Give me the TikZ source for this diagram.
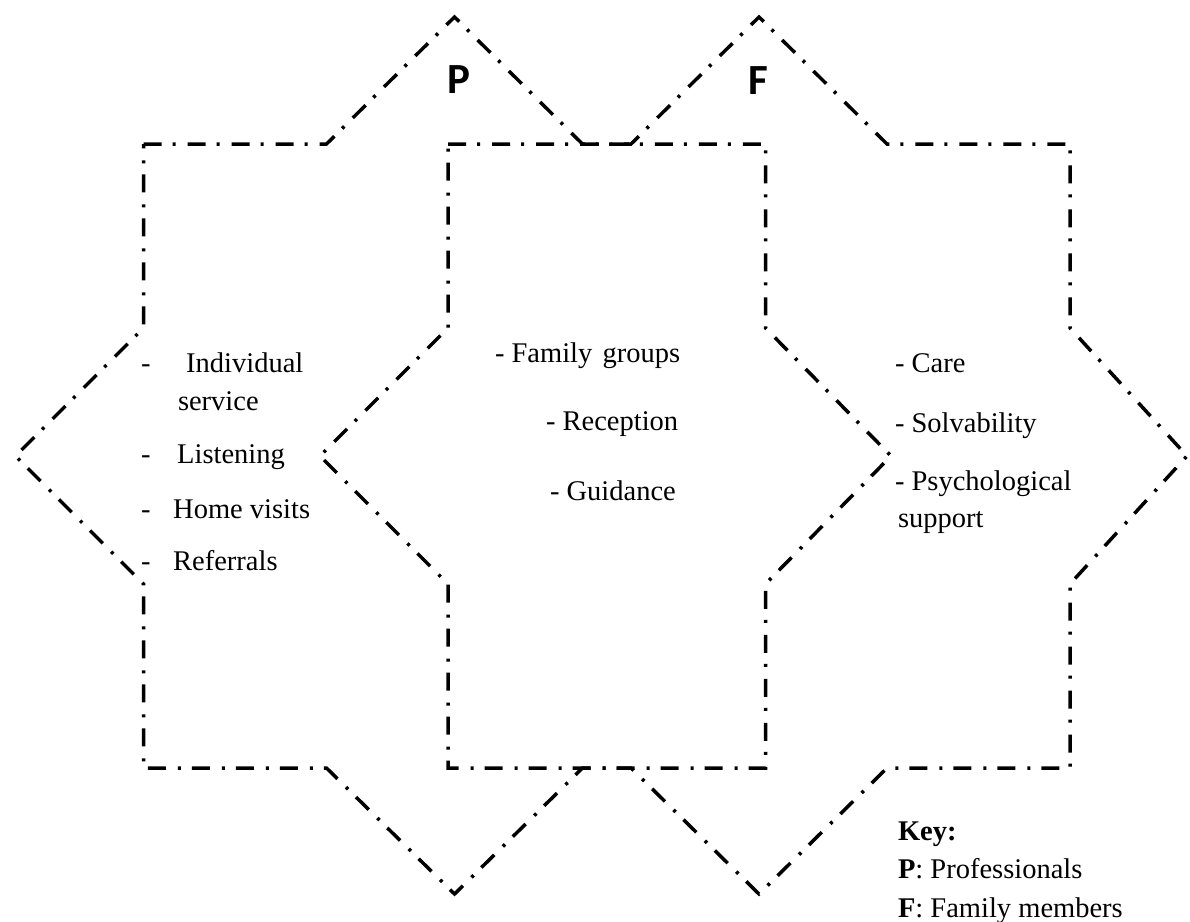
\documentclass[tikz,border=0pt]{standalone}
\usepackage{fontspec}
\setmainfont{Liberation Serif}
\newfontfamily\labelfont{Carlito}
\begin{document}
\begin{tikzpicture}[x=1pt,y=-1pt,
  starline/.style={line width=3.5pt, dash pattern=on 18pt off 11pt on 3pt off 12pt, black},
  txt/.style={inner sep=0pt, outer sep=0pt, anchor=base west, font=\fontsize{28.5}{34}\selectfont},
  lbl/.style={inner sep=0pt, outer sep=0pt, anchor=base, font=\labelfont\bfseries\fontsize{43}{50}\selectfont}]
\useasboundingbox (0,0) rectangle (1190,921);
% left star (P)
\draw[starline] (143.5,144) -- (326.5,144) -- (454.5,17) -- (582.5,144) -- (765.5,144)
  -- (765.5,328) -- (891,456) -- (765.5,584) -- (765.5,768) -- (582.5,768)
  -- (454.5,894) -- (326.5,768) -- (143.5,768) -- (143.5,584) -- (15.5,456)
  -- (143.5,328) -- cycle;
% right star (F)
\draw[starline] (448,144) -- (631,144) -- (759,17) -- (887,144) -- (1070,144)
  -- (1070,328) -- (1187,456) -- (1070,584) -- (1070,768) -- (887,768)
  -- (759,894) -- (631,768) -- (448,768) -- (448,584) -- (320,456)
  -- (448,328) -- cycle;
% labels
\node[lbl] (P) at (459,93) {P};
\node[lbl] (F) at (758,94) {F};
% left column
\node[txt] (i1) at (141,372) {-\hspace{35.7pt}Individual};
\node[txt] (i1b) at (178,410) {service};
\node[txt] (i2) at (141,463) {-\hspace{26.7pt}Listening};
\node[txt] (i3) at (141,518) {-\hspace{22.7pt}Home visits};
\node[txt] (i4) at (141,570) {-\hspace{22.7pt}Referrals};
% middle column
\node[txt] (m1) at (495,362) {- Family\hspace{3pt} groups};
\node[txt] (m2) at (546,430) {- Reception};
\node[txt] (m3) at (550,500) {- Guidance};
% right column
\node[txt] (r1) at (895,372) {- Care};
\node[txt] (r2) at (895,432) {- Solvability};
\node[txt] (r3) at (895,490) {- Psychological};
\node[txt] (r3b) at (898,527) {support};
% key
\node[txt] (k0) at (898,840) {\textbf{Key:}};
\node[txt] (k1) at (898,878) {\textbf{P}: Professionals};
\node[txt] (k2) at (898,917) {\textbf{F}: Family members};
\end{tikzpicture}
\end{document}
